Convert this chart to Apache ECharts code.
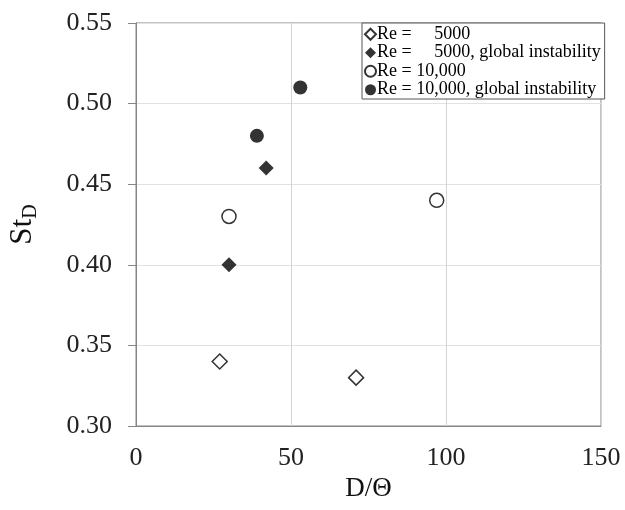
<!DOCTYPE html>
<html>
<head>
<meta charset="utf-8">
<script src="https://cdn.jsdelivr.net/npm/echarts@6/dist/echarts.min.js"></script>
<style>
  html, body { margin: 0; padding: 0; background: #fff; }
  #chart { width: 625px; height: 510px; }
</style>
</head>
<body>
<div id="chart"></div>
<script>
// Strouhal number St_D versus D/Θ for two Reynolds numbers
const seriesNames = [
  'Re =     5000',
  'Re =     5000, global instability',
  'Re = 10,000',
  'Re = 10,000, global instability'
];
const re5000 = [[27, 0.34], [71, 0.33]];
const re5000Global = [[30, 0.40], [42, 0.46]];
const re10000 = [[30, 0.43], [97, 0.44]];
const re10000Global = [[39, 0.48], [53, 0.51]];
const xTicks = [0, 50, 100, 150];
const yTicks = [0.30, 0.35, 0.40, 0.45, 0.50, 0.55];

const FONT = '"Liberation Serif", "Times New Roman", serif';
const chart = echarts.init(document.getElementById('chart'));

function scatter(name, data, symbol, filled, size) {
  return {
    name: name,
    type: 'scatter',
    data: data,
    symbol: symbol,
    symbolSize: size,
    itemStyle: filled
      ? { color: '#000', borderColor: '#000', borderWidth: 0 }
      : { color: '#fff', borderColor: '#000', borderWidth: 1.5 },
    emphasis: { disabled: true },
    z: 3
  };
}

chart.setOption({
  animation: false,
  backgroundColor: '#fff',
  grid: { left: 136, top: 23, right: 24, bottom: 84, containLabel: false,
          outerBoundsMode: 'none',
          show: true, borderColor: '#868686', borderWidth: 1 },
  legend: {
    orient: 'vertical',
    left: 362, top: 23,
    padding: [2, 4, 0, 2],
    itemGap: 0,
    itemWidth: 11, itemHeight: 11,
    backgroundColor: '#fff',
    borderColor: '#555',
    borderWidth: 1,
    data: seriesNames,
    textStyle: {
      fontFamily: FONT, fontSize: 18, color: '#000', lineHeight: 18.5,
      padding: [0, 0, 0, -4]
    }
  },
  xAxis: {
    type: 'value',
    min: xTicks[0], max: xTicks[xTicks.length - 1], interval: 50,
    name: 'D/Θ',
    nameLocation: 'middle',
    nameGap: 41,
    nameTextStyle: { fontFamily: FONT, fontSize: 27, color: '#111' },
    axisLine: { show: true, lineStyle: { color: '#868686', width: 1 } },
    axisTick: { show: false },
    axisLabel: { fontFamily: FONT, fontSize: 26, color: '#222', margin: 19 },
    splitLine: { show: true, lineStyle: { color: '#d4d4d4', width: 1 } }
  },
  yAxis: {
    type: 'value',
    min: yTicks[0], max: yTicks[yTicks.length - 1], interval: 0.05,
    name: '{s|St}{d|D}',
    nameLocation: 'middle',
    nameGap: 93,
    nameRotate: 90,
    nameTextStyle: {
      rich: {
        s: { fontFamily: FONT, fontSize: 31, color: '#111', lineHeight: 40, verticalAlign: 'middle' },
        d: { fontFamily: FONT, fontSize: 20, color: '#111', lineHeight: 40, verticalAlign: 'bottom', padding: [0, 0, 2, 0] }
      }
    },
    axisLine: { show: true, lineStyle: { color: '#868686', width: 1 } },
    axisTick: { show: true, inside: false, length: 8, lineStyle: { color: '#868686' } },
    axisLabel: { fontFamily: FONT, fontSize: 26, color: '#222', margin: 24,
                 formatter: function (v) { return v.toFixed(2); } },
    splitLine: { show: true, lineStyle: { color: '#e2e2e2', width: 1 } }
  },
  series: [
    scatter(seriesNames[0], re5000, 'diamond', false, 15),
    scatter(seriesNames[1], re5000Global, 'diamond', true, 15),
    scatter(seriesNames[2], re10000, 'circle', false, 14),
    scatter(seriesNames[3], re10000Global, 'circle', true, 14)
  ]
});
</script>
</body>
</html>
